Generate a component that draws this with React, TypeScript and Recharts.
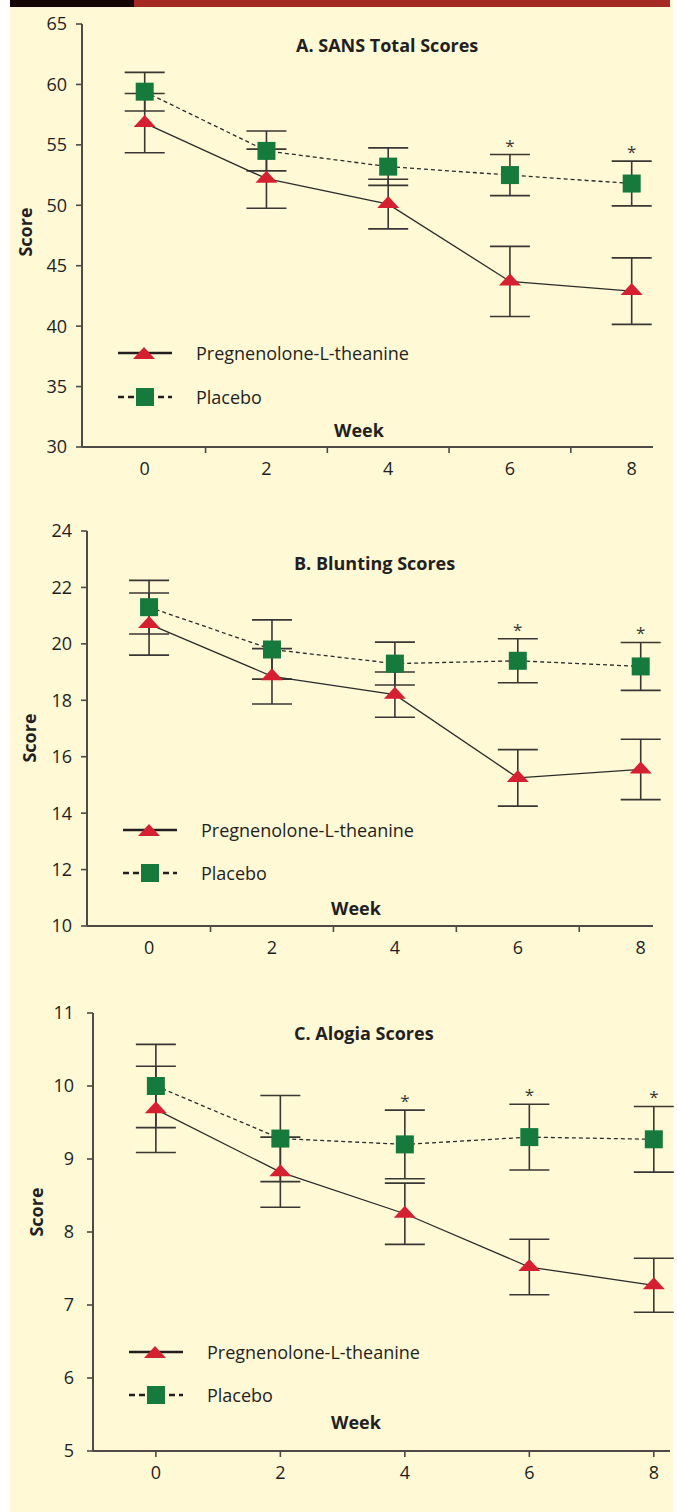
import React from 'react';
import { ComposedChart, Line, XAxis, YAxis, ErrorBar, Scatter, Legend } from 'recharts';

const weeks = [0, 2, 4, 6, 8];

// A. SANS total
const sansPreg = [56.8, 52.2, 50.1, 43.7, 42.9];
const sansPregErr = [2.45, 2.45, 2.05, 2.9, 2.75];
const sansPlacebo = [59.4, 54.5, 53.2, 52.5, 51.8];
const sansPlaceboErr = [1.6, 1.65, 1.55, 1.7, 1.85];
const sansSig = [false, false, false, true, true];
const sansTicks = [30, 35, 40, 45, 50, 55, 60, 65];

// B. Blunting
const bluntPreg = [20.7, 18.85, 18.2, 15.25, 15.55];
const bluntPregErr = [1.1, 0.98, 0.8, 1.0, 1.07];
const bluntPlacebo = [21.3, 19.8, 19.3, 19.4, 19.2];
const bluntPlaceboErr = [0.95, 1.05, 0.76, 0.78, 0.85];
const bluntSig = [false, false, false, true, true];
const bluntTicks = [10, 12, 14, 16, 18, 20, 22, 24];

// C. Alogia
const alogiaPreg = [9.68, 8.82, 8.25, 7.52, 7.27];
const alogiaPregErr = [0.59, 0.48, 0.42, 0.38, 0.37];
const alogiaPlacebo = [10.0, 9.28, 9.2, 9.3, 9.27];
const alogiaPlaceboErr = [0.57, 0.59, 0.47, 0.45, 0.45];
const alogiaSig = [false, false, true, true, true];
const alogiaTicks = [5, 6, 7, 8, 9, 10, 11];

const RED = '#d42030';
const GREEN = '#157a3c';
const INK = '#231f20';
const AXIS = '#4e4a46';
const FONT = '"Open Sans", sans-serif';

const Tri = ({ cx, cy, size = 1 }: any) => (
  <polygon
    points={`${cx - 11 * size},${cy + 4 * size} ${cx + 11 * size},${cy + 4 * size} ${cx},${cy - 8 * size}`}
    fill={RED}
  />
);
const Sq = ({ cx, cy }: any) => <rect x={cx - 9} y={cy - 9} width={18} height={18} fill={GREEN} />;

const WeekTick = ({ x, y, payload, mode }: any) => {
  const v = payload.value;
  const labelled = v % 2 === 0;
  const marked = mode === 'on' ? true : !labelled;
  return (
    <g>
      {marked && <line x1={x} x2={x} y1={y} y2={y + 6} stroke={AXIS} strokeWidth={1.6} />}
      {labelled && (
        <text x={x} y={y + 21} textAnchor="middle" dominantBaseline="central" fontSize={18} fill={INK} fontFamily={FONT}>
          {v}
        </text>
      )}
    </g>
  );
};

const LegendBox = ({ gap }: { gap: number }) => (
  <svg width={300} height={gap + 30} style={{ display: 'block', overflow: 'visible' }}>
    <line x1={0} x2={54} y1={15} y2={15} stroke={INK} strokeWidth={2.5} />
    <Tri cx={26} cy={17} />
    <text x={78} y={15} dominantBaseline="central" fontSize={18} fill={INK} fontFamily={FONT}>
      Pregnenolone-L-theanine
    </text>
    <line x1={0} x2={54} y1={15 + gap} y2={15 + gap} stroke={INK} strokeWidth={2.5} strokeDasharray="6 4" />
    <Sq cx={27} cy={15 + gap} />
    <text x={78} y={15 + gap} dominantBaseline="central" fontSize={18} fill={INK} fontFamily={FONT}>
      Placebo
    </text>
  </svg>
);

type PanelProps = {
  top: number;
  height: number;
  margin: { top: number; right: number; left: number; bottom: number };
  yDomain: [number, number];
  yTicks: number[];
  yTickMargin: number;
  xDomain: [number, number];
  tickMode: 'between' | 'on';
  preg: number[];
  pregErr: number[];
  placebo: number[];
  placeboErr: number[];
  sig: boolean[];
  title: string;
  titleX: number;
  titleY: number;
  weekX: number;
  weekY: number;
  scoreX: number;
  scoreY: number;
  legendX: number;
  legendY: number;
  legendGap: number;
};

const boldLabel: React.CSSProperties = {
  position: 'absolute',
  fontFamily: FONT,
  fontWeight: 700,
  fontSize: 18,
  lineHeight: '24px',
  color: INK,
  whiteSpace: 'nowrap',
};

const Panel = (p: PanelProps) => {
  const data = weeks.map((w, i) => ({
    week: w,
    preg: p.preg[i],
    pregErr: p.pregErr[i],
    placebo: p.placebo[i],
    placeboErr: p.placeboErr[i],
  }));
  const stars = weeks
    .map((w, i) => ({ week: w, star: p.placebo[i] + p.placeboErr[i], on: p.sig[i] }))
    .filter(d => d.on);
  const xTicks = p.tickMode === 'on' ? weeks : [0, 1, 2, 3, 4, 5, 6, 7, 8];

  return (
    <div style={{ position: 'absolute', left: 0, top: p.top, width: 677, height: p.height }}>
      <ComposedChart width={677} height={p.height} data={data} margin={p.margin}>
        <XAxis
          dataKey="week"
          type="number"
          domain={p.xDomain}
          ticks={xTicks}
          interval={0}
          allowDataOverflow
          height={40}
          axisLine={{ stroke: AXIS, strokeWidth: 2 }}
          tickLine={false}
          tickSize={0}
          tickMargin={0}
          tick={(props: any) => <WeekTick {...props} mode={p.tickMode} />}
        />
        <YAxis
          type="number"
          domain={p.yDomain}
          ticks={p.yTicks}
          interval={0}
          allowDataOverflow
          width={60}
          axisLine={{ stroke: AXIS, strokeWidth: 2 }}
          tickLine={{ stroke: AXIS, strokeWidth: 1.6 }}
          tickSize={6}
          tickMargin={p.yTickMargin}
          tick={{ fontSize: 18, fill: INK, fontFamily: FONT }}
        />
        <Legend
          verticalAlign="middle"
          align="center"
          wrapperStyle={{ left: p.legendX, top: p.legendY, width: 300 }}
          content={() => <LegendBox gap={p.legendGap} />}
        />
        <Line dataKey="preg" stroke="none" dot={false} activeDot={false} legendType="none" isAnimationActive={false}>
          <ErrorBar dataKey="pregErr" width={20} stroke="#3a3633" strokeWidth={1.6} direction="y" />
        </Line>
        <Line dataKey="placebo" stroke="none" dot={false} activeDot={false} legendType="none" isAnimationActive={false}>
          <ErrorBar dataKey="placeboErr" width={20} stroke="#3a3633" strokeWidth={1.6} direction="y" />
        </Line>
        <Line
          dataKey="placebo"
          name="Placebo"
          stroke="#2b2b2b"
          strokeWidth={1.3}
          strokeDasharray="4 3"
          dot={(d: any) => <Sq key={`s${d.index}`} cx={d.cx} cy={d.cy} />}
          activeDot={false}
          isAnimationActive={false}
        />
        <Line
          dataKey="preg"
          name="Pregnenolone-L-theanine"
          stroke="#2b2b2b"
          strokeWidth={1.3}
          dot={(d: any) => <Tri key={`t${d.index}`} cx={d.cx} cy={d.cy} />}
          activeDot={false}
          isAnimationActive={false}
        />
        <Scatter
          data={stars}
          dataKey="star"
          legendType="none"
          isAnimationActive={false}
          shape={(s: any) => (
            <text x={s.cx} y={s.cy - 3} textAnchor="middle" fontSize={17} fill="#3a3633" fontFamily={FONT}>
              *
            </text>
          )}
        />
      </ComposedChart>
      <div style={{ ...boldLabel, left: p.titleX, top: p.titleY - 12 }}>{p.title}</div>
      <div style={{ ...boldLabel, left: p.weekX - 40, width: 80, textAlign: 'center', top: p.weekY - 12 }}>Week</div>
      <div
        style={{
          ...boldLabel,
          left: p.scoreX - 40,
          width: 80,
          textAlign: 'center',
          top: p.scoreY - 12,
          transform: 'rotate(-90deg)',
        }}
      >
        Score
      </div>
    </div>
  );
};

export default function App() {
  return (
    <div style={{ position: 'absolute', left: 0, top: 0, width: 677, height: 1512, background: '#ffffff', overflow: 'hidden' }}>
      <div style={{ position: 'absolute', left: 10, top: 0, width: 663, height: 1512, background: '#fff9d6' }} />
      <div style={{ position: 'absolute', left: 10, top: 0, width: 124, height: 7, background: '#150505' }} />
      <div style={{ position: 'absolute', left: 134, top: 0, width: 536, height: 7, background: '#a62923' }} />

      <Panel
        top={0}
        height={497}
        margin={{ top: 24, right: 24, left: 22, bottom: 10 }}
        yDomain={[30, 65]}
        yTicks={sansTicks}
        yTickMargin={9}
        xDomain={[-1.03, 8.35]}
        tickMode="between"
        preg={sansPreg}
        pregErr={sansPregErr}
        placebo={sansPlacebo}
        placeboErr={sansPlaceboErr}
        sig={sansSig}
        title="A. SANS Total Scores"
        titleX={296}
        titleY={45}
        weekX={359}
        weekY={430}
        scoreX={25}
        scoreY={232}
        legendX={118}
        legendY={338}
        legendGap={44}
      />
      <Panel
        top={500}
        height={476}
        margin={{ top: 31, right: 24, left: 27, bottom: 10 }}
        yDomain={[10, 24]}
        yTicks={bluntTicks}
        yTickMargin={9}
        xDomain={[-1.01, 8.2]}
        tickMode="between"
        preg={bluntPreg}
        pregErr={bluntPregErr}
        placebo={bluntPlacebo}
        placeboErr={bluntPlaceboErr}
        sig={bluntSig}
        title="B. Blunting Scores"
        titleX={294}
        titleY={63}
        weekX={356}
        weekY={408}
        scoreX={29}
        scoreY={238}
        legendX={123}
        legendY={315}
        legendGap={43}
      />
      <Panel
        top={980}
        height={521}
        margin={{ top: 33, right: 7, left: 33, bottom: 10 }}
        yDomain={[5, 11]}
        yTicks={alogiaTicks}
        yTickMargin={13}
        xDomain={[-1.01, 8.26]}
        tickMode="on"
        preg={alogiaPreg}
        pregErr={alogiaPregErr}
        placebo={alogiaPlacebo}
        placeboErr={alogiaPlaceboErr}
        sig={alogiaSig}
        title="C. Alogia Scores"
        titleX={294}
        titleY={53}
        weekX={356}
        weekY={442}
        scoreX={36}
        scoreY={232}
        legendX={129}
        legendY={357}
        legendGap={43}
      />
    </div>
  );
}
